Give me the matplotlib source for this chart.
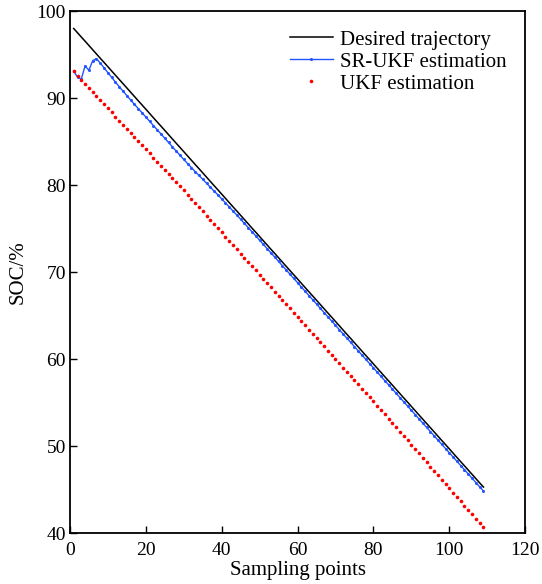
import matplotlib
matplotlib.use("Agg")
import matplotlib.pyplot as plt

plt.rcParams['font.family'] = ['Liberation Serif', 'DejaVu Serif']
plt.rcParams['mathtext.fontset'] = 'stix'

# sampling points 1..109
samples = list(range(1, 110))

desired = [
    98.00, 97.51, 97.02, 96.54, 96.05, 95.56, 95.07, 94.58, 94.10, 93.61,
    93.12, 92.63, 92.14, 91.66, 91.17, 90.68, 90.19, 89.70, 89.22, 88.73,
    88.24, 87.75, 87.26, 86.78, 86.29, 85.80, 85.31, 84.82, 84.34, 83.85,
    83.36, 82.87, 82.38, 81.90, 81.41, 80.92, 80.43, 79.94, 79.46, 78.97,
    78.48, 77.99, 77.50, 77.02, 76.53, 76.04, 75.55, 75.06, 74.58, 74.09,
    73.60, 73.11, 72.62, 72.14, 71.65, 71.16, 70.67, 70.18, 69.70, 69.21,
    68.72, 68.23, 67.74, 67.26, 66.77, 66.28, 65.79, 65.30, 64.82, 64.33,
    63.84, 63.35, 62.86, 62.38, 61.89, 61.40, 60.91, 60.42, 59.94, 59.45,
    58.96, 58.47, 57.98, 57.50, 57.01, 56.52, 56.03, 55.54, 55.06, 54.57,
    54.08, 53.59, 53.10, 52.62, 52.13, 51.64, 51.15, 50.66, 50.18, 49.69,
    49.20, 48.71, 48.22, 47.74, 47.25, 46.76, 46.27, 45.78, 45.30,
]

sr_ukf = [
    93.10, 92.40, 92.20, 93.70, 93.20, 94.30, 94.55, 94.03, 93.48, 92.93,
    92.38, 91.84, 91.31, 90.80, 90.29, 89.78, 89.29, 88.80, 88.32, 87.83,
    87.34, 86.85, 86.36, 85.88, 85.39, 84.90, 84.41, 83.92, 83.44, 82.95,
    82.48, 82.02, 81.56, 81.12, 80.67, 80.22, 79.77, 79.32, 78.88, 78.42,
    77.96, 77.49, 77.02, 76.56, 76.08, 75.60, 75.12, 74.64, 74.16, 73.67,
    73.18, 72.69, 72.20, 71.72, 71.23, 70.74, 70.25, 69.76, 69.28, 68.79,
    68.29, 67.80, 67.31, 66.83, 66.34, 65.84, 65.35, 64.86, 64.38, 63.89,
    63.39, 62.90, 62.41, 61.93, 61.44, 60.95, 60.46, 59.97, 59.49, 59.00,
    58.51, 58.02, 57.53, 57.05, 56.56, 56.07, 55.58, 55.09, 54.61, 54.12,
    53.63, 53.14, 52.65, 52.17, 51.68, 51.19, 50.70, 50.21, 49.73, 49.24,
    48.75, 48.26, 47.77, 47.29, 46.80, 46.31, 45.82, 45.33, 44.85,
]

ukf = [
    93.10, 92.55, 92.05, 91.62, 91.18, 90.70, 90.22, 89.76, 89.28, 88.82,
    88.35, 87.88, 87.40, 86.94, 86.46, 86.00, 85.52, 85.06, 84.58, 84.12,
    83.65, 83.17, 82.70, 82.24, 81.76, 81.30, 80.82, 80.35, 79.88, 79.40,
    78.92, 78.43, 77.95, 77.46, 76.98, 76.50, 76.01, 75.53, 75.04, 74.56,
    74.07, 73.59, 73.10, 72.62, 72.13, 71.65, 71.16, 70.68, 70.19, 69.71,
    69.22, 68.74, 68.25, 67.77, 67.28, 66.80, 66.31, 65.83, 65.34, 64.86,
    64.37, 63.89, 63.40, 62.92, 62.43, 61.95, 61.46, 60.98, 60.49, 60.01,
    59.52, 59.04, 58.55, 58.07, 57.58, 57.10, 56.61, 56.13, 55.64, 55.16,
    54.66, 54.16, 53.66, 53.16, 52.66, 52.16, 51.66, 51.16, 50.66, 50.16,
    49.66, 49.16, 48.66, 48.16, 47.66, 47.16, 46.66, 46.16, 45.66, 45.16,
    44.66, 44.16, 43.66, 43.16, 42.66, 42.16, 41.66, 41.16, 40.66,
]

fig = plt.figure(figsize=(5.42, 5.84), dpi=100)
ax = fig.add_axes([0.129, 0.087, 0.840, 0.894])

ax.plot(samples, desired, color='black', linewidth=1.1, label='Desired trajectory')
ax.plot(samples, sr_ukf, color='#2255ff', linewidth=1.0, marker='o', markersize=2.2,
        markeredgewidth=0, label='SR-UKF estimation')
ax.plot(samples, ukf, color='red', linestyle='none', marker='o', markersize=2.6,
        markeredgewidth=0, label='UKF estimation')

ax.set_xlim(0, 120)
ax.set_ylim(40, 100)
ax.set_xticks(range(0, 121, 20))
ax.set_yticks(range(40, 101, 10))
ax.tick_params(direction='in', length=5, width=1.0, labelsize=14)
ax.tick_params(axis='x', pad=6)
ax.tick_params(axis='y', pad=3)
for s in ax.spines.values():
    s.set_linewidth(1.3)

ax.set_xlabel('Sampling points', fontsize=15, labelpad=2)
ax.set_ylabel('SOC/%', fontsize=15, labelpad=6)

ax.legend(loc='upper left', frameon=False, fontsize=15, numpoints=1,
          handlelength=2.05, handletextpad=0.35, labelspacing=0.12,
          borderpad=0.0, borderaxespad=0.0,
          bbox_to_anchor=(290 / 542, 1 - 30 / 584), bbox_transform=fig.transFigure)

fig.savefig('out.png', dpi=100, facecolor='white')
